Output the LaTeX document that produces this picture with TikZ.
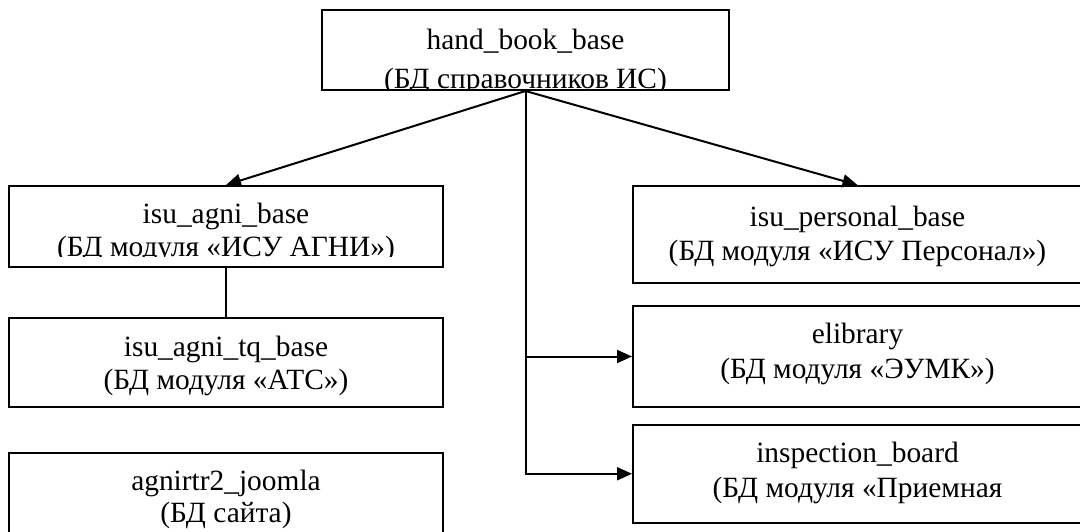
\documentclass[tikz,border=0pt]{standalone}
\usepackage{fontspec}
\setmainfont{Liberation Serif}
\usetikzlibrary{arrows.meta,calc}
\begin{document}
\begin{tikzpicture}[x=1pt,y=-1pt,
  box/.style={draw, line width=2pt, inner sep=0pt, rectangle},
  lbl/.style={align=center, inner sep=0pt, anchor=base, font=\fontsize{29.4}{34}\selectfont},
  arr/.style={line width=2pt, -{Triangle[length=15pt,width=13pt]}},
  link/.style={line width=2pt}]
\useasboundingbox (0,0) rectangle (1080,532);
\clip (0,0) rectangle (1080,532);
% boxes
\node[box, minimum width=407pt, minimum height=80pt] (hb) at (525.5,50) {};
\node[box, minimum width=434pt, minimum height=81pt] (agni) at (226,226.5) {};
\node[box, minimum width=434pt, minimum height=89pt] (tq) at (226,362.5) {};
\node[box, minimum width=434pt, minimum height=97pt] (joomla) at (226,501.5) {};
\node[box, minimum width=449pt, minimum height=97pt] (pers) at (857.5,234.5) {};
\node[box, minimum width=449pt, minimum height=101pt] (elib) at (857.5,356.5) {};
\node[box, minimum width=449pt, minimum height=98.5pt] (insp) at (857.5,473.75) {};
% texts (anchor base = baseline of the last line)
\begin{scope}
  \clip (hb.north west) rectangle ($(hb.south east)+(0,-2.5)$);
  \node[lbl, font=\fontsize{29.4}{39}\selectfont] (hb-t) at (525.5,89) {hand\_book\_base\\(БД справочников ИС)};
\end{scope}
\begin{scope}
  \clip (agni.north west) rectangle ($(agni.south east)+(0,-11.5)$);
  \node[lbl, font=\fontsize{29.4}{33}\selectfont] (agni-t) at (226,256.5) {isu\_agni\_base\\(БД модуля «ИСУ АГНИ»)};
\end{scope}
\node[lbl, font=\fontsize{29.4}{33}\selectfont] (tq-t) at (226,389) {isu\_agni\_tq\_base\\(БД модуля «АТС»)};
\node[lbl, font=\fontsize{29.4}{32}\selectfont] (joomla-t) at (226,522) {agnirtr2\_joomla\\(БД сайта)};
\node[lbl] (pers-t) at (857.5,260) {isu\_personal\_base\\(БД модуля «ИСУ Персонал»)};
\node[lbl, font=\fontsize{29.4}{35}\selectfont] (elib-t) at (857.5,378) {elibrary\\(БД модуля «ЭУМК»)};
\node[lbl, font=\fontsize{29.4}{35}\selectfont] (insp-t) at (857.5,497) {inspection\_board\\(БД модуля «Приемная};
% connectors
\draw[arr] (hb.south) -- (agni.north);
\draw[arr] (hb.south) -- (pers.north);
\draw[arr] (hb.south) |- (insp.west);
\draw[arr] (hb.south |- elib.west) -- (elib.west);
\draw[link] (agni.south) -- (tq.north);
\end{tikzpicture}
\end{document}
